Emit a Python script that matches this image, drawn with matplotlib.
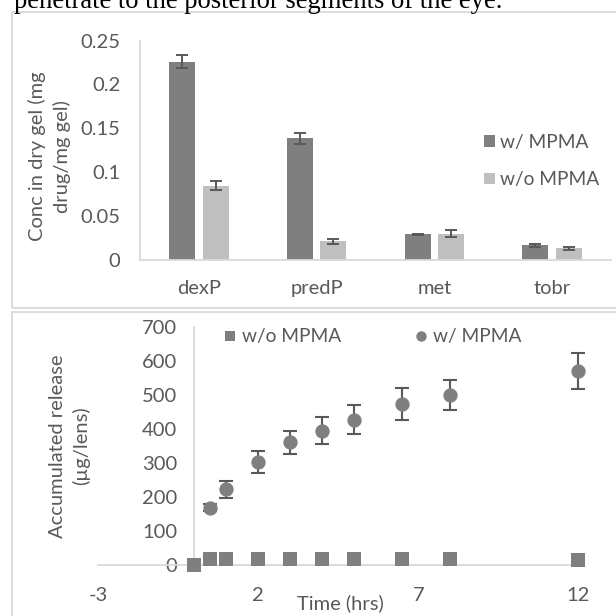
import matplotlib

matplotlib.use("Agg")
import matplotlib.pyplot as plt
from matplotlib.lines import Line2D
from matplotlib.patches import Rectangle

plt.rcParams["font.family"] = ["Lato", "DejaVu Sans"]
plt.rcParams["axes.unicode_minus"] = False

# top panel: drug loading in dry gel
drugs = ["dexP", "predP", "met", "tobr"]
conc_with = [0.226, 0.1385, 0.0288, 0.0162]
conc_with_err = [0.0072, 0.0062, 0.0008, 0.0018]
conc_without = [0.0843, 0.0208, 0.0295, 0.0128]
conc_without_err = [0.0050, 0.0030, 0.0042, 0.0018]

# bottom panel: release over time
time_hrs = [0.5, 1, 2, 3, 4, 5, 6.5, 8, 12]
release_with = [168, 222, 302, 361, 395, 427, 473, 499, 570]
release_with_err = [10, 25, 32, 34, 39, 43, 47, 45, 54]
time_without = [0, 0.5, 1, 2, 3, 4, 5, 6.5, 8, 12]
release_without = [0, 17, 17, 19, 19, 19, 17, 17, 17, 16]

DARK = "#7f7f7f"
LIGHT = "#bfbfbf"
TEXT = "#595959"
AXIS = "#d9d9d9"
ERR = "#595959"
FS = 14.5
LEG_FS = 13.8
W = 616

fig = plt.figure(figsize=(6.16, 6.16), dpi=100)

# text line cut off at the top of the page
fig.text(14 / W, 1 - 8.5 / W, "penetrate to the posterior segments of the eye.",
         family="Liberation Serif", fontsize=19.2, color="black", va="baseline")

# panel frames
fig.patches.append(Rectangle((12.3 / W, 1 - 308 / W), 0.99, (308 - 11.7) / W,
                             transform=fig.transFigure, fill=False,
                             edgecolor=AXIS, lw=1.3))
fig.patches.append(Rectangle((12.3 / W, -0.01), 0.99, 1 - 312.3 / W + 0.01,
                             transform=fig.transFigure, fill=False,
                             edgecolor=AXIS, lw=1.3))

# ---- top: bar chart
ax1 = fig.add_axes([140 / W, 1 - 259.5 / W, 470.8 / W, 218.8 / W])
x = range(len(drugs))
off, bw = 0.142, 0.221
ax1.bar([i - off for i in x], conc_with, bw, color=DARK, label="w/ MPMA",
        yerr=conc_with_err, error_kw=dict(ecolor=ERR, elinewidth=1.4,
                                          capsize=4.3, capthick=1.4))
ax1.bar([i + off for i in x], conc_without, bw, color=LIGHT, label="w/o MPMA",
        yerr=conc_without_err, error_kw=dict(ecolor=ERR, elinewidth=1.4,
                                             capsize=4.3, capthick=1.4))
ax1.set_xlim(-0.5, 3.5)
ax1.set_ylim(0, 0.25)
ax1.set_xticks(list(x))
ax1.set_xticklabels(drugs)
ax1.set_yticks([0, 0.05, 0.1, 0.15, 0.2, 0.25])
ax1.set_yticklabels(["0", "0.05", "0.1", "0.15", "0.2", "0.25"])
ax1.tick_params(length=0, labelsize=FS, labelcolor=TEXT)
ax1.tick_params(axis="x", pad=15)
ax1.tick_params(axis="y", pad=14)
for side in ["top", "right"]:
    ax1.spines[side].set_visible(False)
for side in ["left", "bottom"]:
    ax1.spines[side].set_color(AXIS)
    ax1.spines[side].set_linewidth(1.3)
ax1.set_ylabel("Conc in dry gel (mg\ndrug/mg gel)", fontsize=FS, color=TEXT,
               linespacing=1.4, va="center")
ax1.yaxis.set_label_coords((49.5 - 140) / 470.8, (259.5 - 156.5) / 218.8)
ax1.legend(loc="center left", bbox_to_anchor=(0.694, 0.45), frameon=False,
           fontsize=LEG_FS, labelcolor=TEXT, handlelength=0.55,
           handleheight=0.55, handletextpad=0.3, labelspacing=1.05)

# ---- bottom: release scatter
ax2 = fig.add_axes([98 / W, 1 - 565 / W, 480.4 / W, 238.3 / W])
ax2.errorbar(time_hrs, release_with, yerr=release_with_err, fmt="none",
             ecolor=ERR, elinewidth=1.5, capsize=4.8, capthick=1.5, zorder=2,
             clip_on=False)
ax2.plot(time_without, release_without, "s", color=DARK, ms=10.3, mew=0,
         zorder=3, clip_on=False)
ax2.plot(time_hrs, release_with, "o", color=DARK, ms=10.3, mew=0, zorder=3,
         clip_on=False)
ax2.set_xlim(-3, 12)
ax2.set_ylim(0, 700)
ax2.set_xticks([-3, 2, 7, 12])
ax2.set_yticks(range(0, 701, 100))
ax2.tick_params(length=0, labelsize=FS, labelcolor=TEXT)
ax2.tick_params(axis="x", pad=16)
ax2.tick_params(axis="y", pad=12)
for side in ["top", "right"]:
    ax2.spines[side].set_visible(False)
ax2.spines["left"].set_position(("data", 0))
for side in ["left", "bottom"]:
    ax2.spines[side].set_color(AXIS)
    ax2.spines[side].set_linewidth(1.3)
ax2.set_xlabel("Time (hrs)", fontsize=FS, color=TEXT, va="center")
ax2.xaxis.set_label_coords((340 - 98) / 480.4, -(603 - 565) / 238.3)
ax2.set_ylabel("Accumulated release\n(µg/lens)", fontsize=FS, color=TEXT,
               linespacing=1.4, va="center")
ax2.yaxis.set_label_coords((69.5 - 98) / 480.4, (565 - 446) / 238.3)
handles = [Line2D([], [], ls="", marker="s", color=DARK, ms=7, mew=0),
           Line2D([], [], ls="", marker="o", color=DARK, ms=7.5, mew=0)]
ax2.legend(handles, ["w/o MPMA", "w/ MPMA"], loc="center left",
           bbox_to_anchor=(0.228, 0.957), ncol=2, frameon=False,
           fontsize=LEG_FS, labelcolor=TEXT, handlelength=0.5,
           handletextpad=0.4, columnspacing=3.9)

fig.savefig("out.png", dpi=100)
